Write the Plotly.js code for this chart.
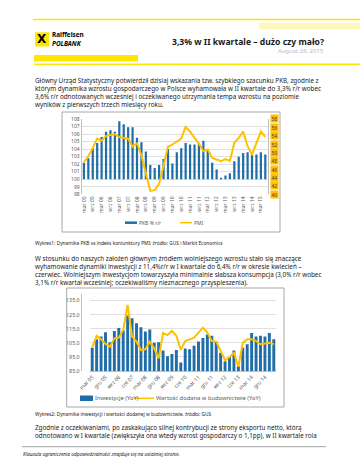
<!DOCTYPE html>
<html>
<head>
<meta charset="utf-8">
<script src="https://cdn.plot.ly/plotly-3.0.1.min.js"></script>
<style>html,body{margin:0;padding:0;background:#fff;}#chart{width:360px;height:466px;}</style>
</head>
<body>
<div id="chart"></div>
<script>
// ---------- DATA ----------
const quarters = [
  'mar 05','cze 05','wrz 05','gru 05',
  'mar 06','cze 06','wrz 06','gru 06',
  'mar 07','cze 07','wrz 07','gru 07',
  'mar 08','cze 08','wrz 08','gru 08',
  'mar 09','cze 09','wrz 09','gru 09',
  'mar 10','cze 10','wrz 10','gru 10',
  'mar 11','cze 11','wrz 11','gru 11',
  'mar 12','cze 12','wrz 12','gru 12',
  'mar 13','cze 13','wrz 13','gru 13',
  'mar 14','cze 14','wrz 14','gru 14',
  'mar 15','cze 15'
];
const gdp = [102.2, 102.8, 104.1, 104.8, 105.6, 106.3, 106.5, 106.3, 107.7, 107.3, 106.9, 106.9,
  105.5, 104.9, 103.7, 101.9, 101.5, 101.9, 102.7, 104.0, 102.1, 103.6, 104.1, 104.8,
  104.6, 104.6, 104.8, 105.1, 103.8, 102.2, 101.3, 100.2, 100.5, 100.8, 102.4, 103.0,
  103.5, 103.6, 103.2, 103.3, 103.6, 103.3];
const pmi = [47.7, 49.1, 51.1, 53.3, 52.8, 53.9, 54.2, 54.4, 53.7, 53.5, 53.3, 51.4,
  52.2, 49.3, 44.9, 40.8, 41.0, 42.5, 46.9, 51.3, 51.9, 52.5, 53.3, 56.1,
  55.0, 53.5, 52.1, 50.3, 50.7, 48.7, 48.3, 47.9, 48.4, 48.0, 52.3, 53.5,
  55.0, 51.5, 49.5, 52.1, 55.0, 53.7];
const investment = [101.5, 107.5, 109.5, 112.5, 105.5, 113.5, 115.5, 114.0, 124.5, 122.5, 119.0, 116.0,
  113.0, 114.5, 105.0, 105.5, 99.5, 95.5, 97.0, 100.0, 91.0, 101.0, 100.5, 103.0,
  106.0, 108.5, 111.0, 110.0, 106.0, 98.0, 92.0, 95.0, 99.5, 88.5, 101.5, 104.0,
  112.0, 109.5, 110.0, 109.5, 112.0, 107.5];
const construction = [101.8, 109.9, 107.5, 104.2, 102.3, 108.2, 108.7, 114.1, 131.9, 109.4, 105.9, 99.9,
  100.4, 105.9, 101.1, 94.0, 112.0, 110.5, 113.4, 110.0, 100.0, 106.3, 107.5, 108.7,
  112.3, 115.8, 112.3, 106.3, 105.9, 99.2, 92.6, 95.0, 98.0, 88.0, 105.1, 107.5,
  107.5, 106.3, 104.0, 104.5, 105.0, 104.0];
const pmiTicks = [40, 42, 44, 46, 48, 50, 52, 54, 56, 58];
const gdpBase = 100;

const seriesNames = ['PKB % r/r', 'PMI', 'Inwestycje (YoY)', 'Wartość dodana w budownictwie (YoY)'];

const para1 = [
  'Główny Urząd Statystyczny potwierdził dzisiaj wskazania tzw. szybkiego szacunku PKB, zgodnie z',
  'którym dynamika wzrostu gospodarczego w Polsce wyhamowała w II kwartale do 3,3% r/r wobec',
  '3,6% r/r odnotowanych wcześniej i oczekiwanego utrzymania tempa wzrostu na poziomie',
  'wyników z pierwszych trzech miesięcy roku.'
];
const para2 = [
  'W stosunku do naszych założeń głównym źródłem wolniejszego wzrostu stało się znaczące',
  'wyhamowanie dynamiki inwestycji z 11,4%r/r w I kwartale do 6,4% r/r w okresie kwiecień –',
  'czerwiec. Wolniejszym inwestycjom towarzyszyła minimalnie słabsza konsumpcja (3,0% r/r wobec',
  '3,1% r/r kwartał wcześniej; oczekiwaliśmy nieznacznego przyspieszenia).'
];
const para3 = [
  'Zgodnie z oczekiwaniami, po zaskakująco silnej kontrybucji ze strony eksportu netto, którą',
  'odnotowano w I kwartale (zwiększyła ona wtedy wzrost gospodarczy o 1,1pp), w II kwartale rola'
];

// ---------- LAYOUT HELPERS ----------
const W = 360, H = 466;
const px = x => x / W;
const py = y => 1 - y / H;
const FONT = 'Noto Sans, Open Sans, sans-serif';
const BLUE = '#1F6EA8';
const YEL = '#FFC000';

const traces = [
  {type: 'bar', x: quarters, y: gdp.map(v => v - gdpBase), base: gdpBase, name: seriesNames[0], width: 0.5,
   marker: {color: BLUE}, xaxis: 'x', yaxis: 'y', hoverinfo: 'skip'},
  {type: 'scatter', mode: 'lines', x: quarters, y: pmi, name: seriesNames[1],
   line: {color: YEL, width: 2}, xaxis: 'x', yaxis: 'y2', hoverinfo: 'skip'},
  {type: 'bar', x: quarters, y: investment, name: seriesNames[2], width: 0.66,
   marker: {color: BLUE}, xaxis: 'x2', yaxis: 'y3', hoverinfo: 'skip'},
  {type: 'scatter', mode: 'lines', x: quarters, y: construction, name: seriesNames[3],
   line: {color: YEL, width: 2}, xaxis: 'x2', yaxis: 'y3', hoverinfo: 'skip'}
];

const annotations = [];
function textLine(t, x, y, size, opts) {
  annotations.push(Object.assign({
    text: t, xref: 'paper', yref: 'paper', x: px(x), y: py(y), xanchor: 'left', yanchor: 'middle',
    showarrow: false, borderpad: 0, font: {family: FONT, size: size, color: '#1a1a1a'}
  }, opts || {}));
}
para1.forEach((t, i) => textLine(t, 34, 80.5 + i * 8, 6.3));
para2.forEach((t, i) => textLine(t, 34, 258.5 + i * 8.1, 6.3));
para3.forEach((t, i) => textLine(t, 34, 427.3 + i * 8, 6.3));
textLine('Wykres1: Dynamika PKB vs indeks koniunktury PMI; źródło: GUS i Markit Economics', 34, 243, 4.8);
textLine('Wykres2: Dynamika inwestycji i wartości dodanej w budownictwie, źródło: GUS', 34, 413.5, 4.8);
textLine('<i>Klauzula ograniczenia odpowiedzialności znajduje się na ostatniej stronie.</i>', 22, 454, 4.8);
// header
textLine('<b>3,3% w II kwartale – dużo czy mało?</b>', 325, 42, 8.6, {xanchor: 'right'});
textLine('August 28, 2015', 325, 50.5, 6, {xanchor: 'right', font: {family: FONT, size: 6, color: '#BDBDBD'}});
textLine('<b>Raiffeisen</b>', 51, 35, 6.4, {font: {family: FONT, size: 6.4, color: '#000'}});
textLine('<b><i>POLBANK</i></b>', 51, 43.6, 6.4, {font: {family: FONT, size: 6.4, color: '#000'}});
textLine('<b>X</b>', 42, 39.5, 12, {xanchor: 'center', font: {family: 'DejaVu Sans', size: 12, color: '#000'}});
// right axis labels with yellow boxes
pmiTicks.forEach(t => annotations.push({
  text: String(t), xref: 'paper', yref: 'y2', x: px(269.5), y: t, xanchor: 'left', yanchor: 'middle',
  showarrow: false, bgcolor: '#FFC000', borderpad: 0.6, font: {family: FONT, size: 4.8, color: '#404040'}
}));
// legends (drawn by hand to match the reference keys)
const legFont = {family: FONT, size: 5, color: '#595959'};
textLine(seriesNames[0], 138, 222.7, 5, {font: legFont});
textLine(seriesNames[1], 193, 222.7, 5, {font: legFont});
const legFont2 = {family: FONT, size: 5.8, color: '#595959'};
textLine(seriesNames[2], 93.5, 398.3, 5.8, {font: legFont2});
textLine(seriesNames[3], 155, 398.3, 5.8, {font: legFont2});

const shapes = [
  {type: 'line', xref: 'paper', yref: 'paper', x0: px(33), x1: px(360), y0: py(19.5), y1: py(19.5), line: {color: '#FFE600', width: 1.5}},
  {type: 'rect', xref: 'paper', yref: 'paper', x0: px(259), x1: px(360), y0: py(23), y1: py(29.5), fillcolor: '#FFF7B8', line: {width: 0}},
  {type: 'rect', xref: 'paper', yref: 'paper', x0: px(34), x1: px(138), y0: py(55), y1: py(61.5), fillcolor: '#FFE500', line: {width: 0}},
  {type: 'line', xref: 'paper', yref: 'paper', x0: px(34), x1: px(360), y0: py(64.3), y1: py(64.3), line: {color: '#FFE600', width: 1.5}},
  {type: 'rect', xref: 'paper', yref: 'paper', x0: px(35), x1: px(49), y0: py(32.3), y1: py(46.5), fillcolor: '#FFE500', line: {width: 0}, layer: 'below'},
  {type: 'rect', xref: 'paper', yref: 'paper', x0: px(62), x1: px(280), y0: py(112), y1: py(232), line: {color: '#A8A8A8', width: 1}},
  {type: 'rect', xref: 'paper', yref: 'paper', x0: px(66.7), x1: px(284), y0: py(288), y1: py(407), line: {color: '#A8A8A8', width: 1}},
  {type: 'line', xref: 'paper', yref: 'paper', x0: px(22), x1: px(326), y0: py(446.7), y1: py(446.7), line: {color: '#8C8C8C', width: 0.8}},
  // legend keys
  {type: 'line', xref: 'paper', yref: 'paper', x0: px(125), x1: px(137), y0: py(222.7), y1: py(222.7), line: {color: BLUE, width: 2.5}},
  {type: 'line', xref: 'paper', yref: 'paper', x0: px(180), x1: px(192), y0: py(222.7), y1: py(222.7), line: {color: YEL, width: 1.5}},
  {type: 'rect', xref: 'paper', yref: 'paper', x0: px(80), x1: px(93), y0: py(395.5), y1: py(401), fillcolor: BLUE, line: {width: 0}},
  {type: 'line', xref: 'paper', yref: 'paper', x0: px(134), x1: px(154), y0: py(398.3), y1: py(398.3), line: {color: YEL, width: 1.5}}
];

const tickFont = {family: FONT, size: 5, color: '#595959'};
const layout = {
  width: W, height: H, margin: {l: 0, r: 0, t: 0, b: 0},
  paper_bgcolor: '#fff', plot_bgcolor: 'rgba(0,0,0,0)',
  font: {family: FONT}, showlegend: false,
  xaxis: {domain: [px(81.7), px(267.5)], anchor: 'y', type: 'category', range: [-0.5, 41.5],
    tickvals: quarters.filter((q, i) => i % 2 === 0), tickangle: -90, tickfont: tickFont,
    showgrid: false, zeroline: false, showline: false, ticks: ''},
  yaxis: {domain: [py(194.3), py(119)], range: [98, 108], dtick: 1, tickfont: tickFont,
    gridcolor: '#D9D9D9', gridwidth: 0.8, zeroline: false, showline: true, linecolor: '#BFBFBF', ticks: ''},
  yaxis2: {overlaying: 'y', side: 'right', range: [40, 58], dtick: 2, showgrid: false,
    showticklabels: false, zeroline: false, showline: true, linecolor: '#BFBFBF', anchor: 'x'},
  xaxis2: {domain: [px(90), px(276)], anchor: 'y3', type: 'category', range: [-0.5, 41.5],
    tickvals: quarters.filter((q, i) => i % 3 === 0), tickangle: -45, tickfont: {family: FONT, size: 5.3, color: '#595959'},
    showgrid: false, zeroline: false, showline: true, linecolor: '#BFBFBF', ticks: ''},
  yaxis3: {domain: [py(371), py(293.6)], range: [85, 140], tick0: 85, dtick: 10, tickformat: '.1f',
    tickfont: {family: FONT, size: 5.3, color: '#595959'}, gridcolor: '#D9D9D9', gridwidth: 0.8,
    zeroline: false, showline: true, linecolor: '#BFBFBF', ticks: ''},
  annotations: annotations, shapes: shapes
};

Plotly.newPlot('chart', traces, layout, {displayModeBar: false, staticPlot: true});
</script>
</body>
</html>
